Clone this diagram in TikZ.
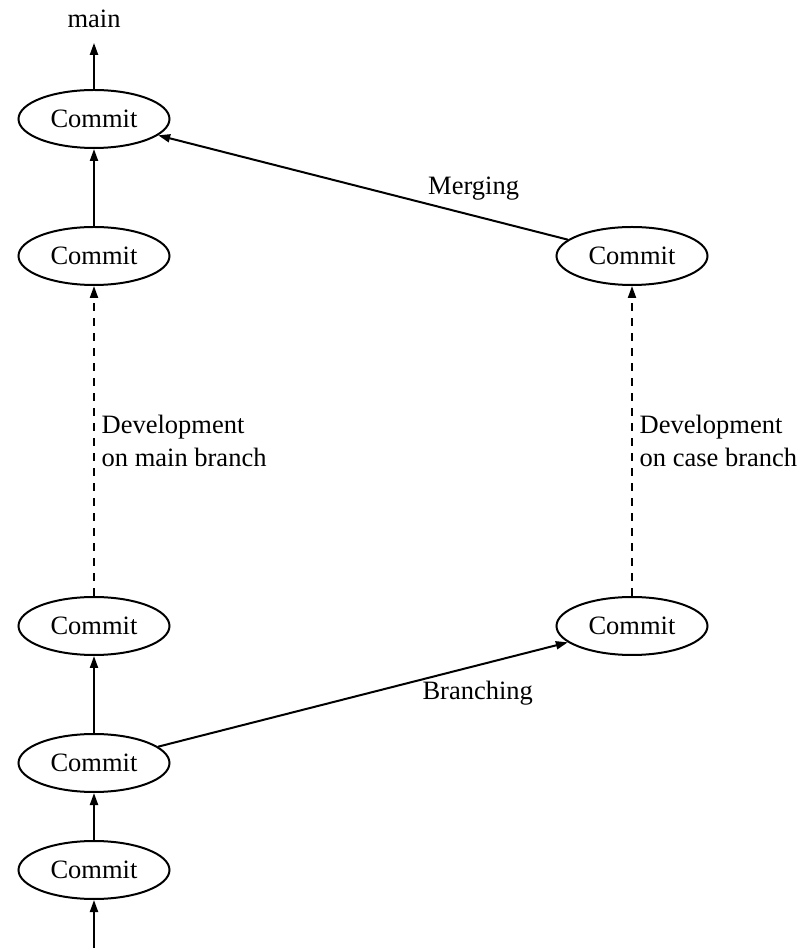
\documentclass[tikz,border=0pt]{standalone}
\usepackage{fontspec}
\setmainfont{Liberation Serif}
\usetikzlibrary{shapes.geometric, arrows.meta}

\begin{document}
\begin{tikzpicture}[node distance = 68.5pt, font=\fontsize{13.25}{16.5}\selectfont,
        commit/.style = {draw, ellipse, line width=1pt, minimum width=75.5pt, minimum height=29pt, inner sep=0pt},
        arr/.style = {-{Triangle[length=6pt,width=4pt]}, line width=1pt},
        dev/.style = {arr, dash pattern=on 4pt off 3.5pt}]
            \useasboundingbox (-47pt,-39pt) rectangle (357pt,435pt);
            \node (c1) [commit] {Commit};
            \node (c2) [commit, node distance=53.5pt, above of=c1] {Commit};
            \node (c3) [commit, above of=c2] {Commit};
            \node (c4) [commit, node distance=185pt, above of=c3] {Commit};
            \node (c5) [commit, above of=c4] {Commit};
            \node (main) [node distance=50pt, above of=c5, inner sep=0pt, outer ysep=7.5pt] {main};
            \node (b1) [commit, node distance=269pt, right of=c3] {Commit};
            \node (b2) [commit, node distance=185pt, above of=b1] {Commit};
            \coordinate [node distance=39pt, below of=c1] (start);

            \draw[arr] (start) -- (c1);
            \draw[arr] (c1) -- (c2);
            \draw[arr] (c2) -- (c3);
            \draw[dev] (c3) -- (c4) node[midway, right, align=left] {Development\\on main branch};
            \draw[arr] (c4) -- (c5);
            \draw[arr] (c5) -- (main);
            \draw[arr] (c2) -- (b1) node[pos=0.78, below=4pt] {Branching};
            \draw[dev] (b1) -- (b2) node[midway, right, align=left] {Development\\on case branch};
            \draw[arr] (b2) -- (c5) node[pos=0.23, above=4pt] {Merging};
        \end{tikzpicture}
\end{document}
